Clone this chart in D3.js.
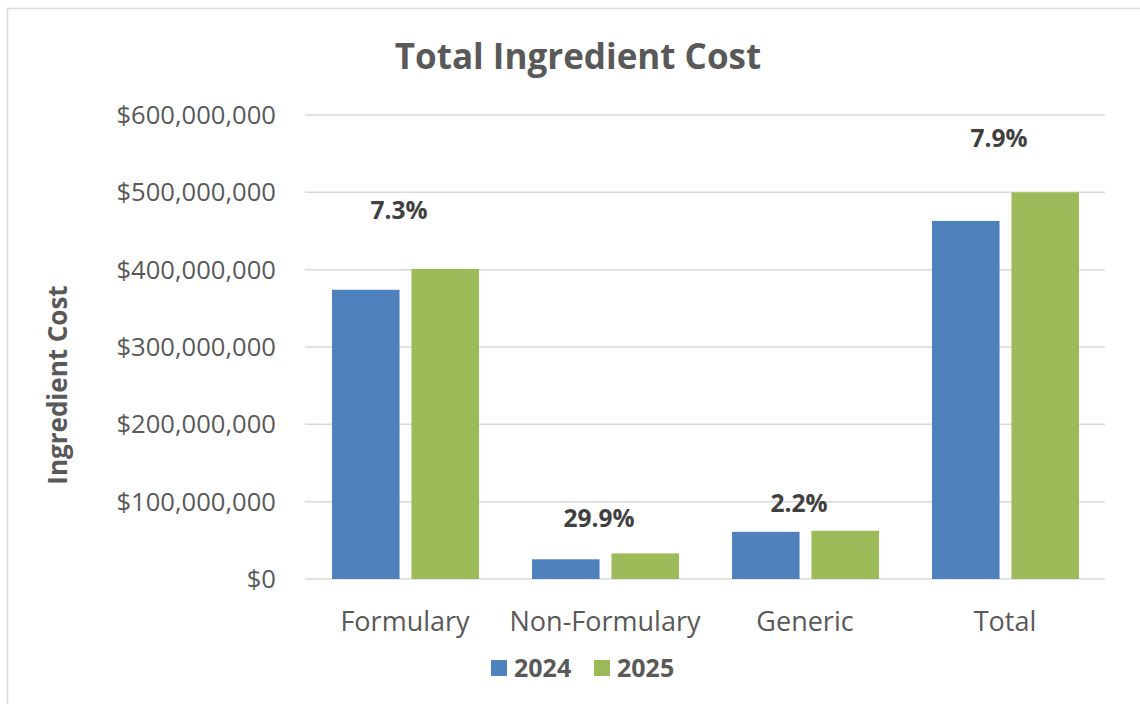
<!DOCTYPE html>
<html>
<head>
<meta charset="utf-8">
<script src="https://cdn.jsdelivr.net/npm/d3@7"></script>
<style>
  body { margin: 0; background: #fff; }
  text { font-family: "Open Sans", "Noto Sans", sans-serif; }
</style>
</head>
<body>
<script>
// Data
var categories = ["Formulary", "Non-Formulary", "Generic", "Total"];
var years = ["2024", "2025"];
var values2024 = [374000000, 25500000, 61000000, 463000000];
var values2025 = [401000000, 33100000, 62300000, 500000000];
var changeLabels = ["7.3%", "29.9%", "2.2%", "7.9%"];
// where each change label sits, in axis units
var labelAt = [477000000, 78000000, 98000000, 570000000];
var yTicks = [0, 100000000, 200000000, 300000000, 400000000, 500000000, 600000000];

var colors = ["#4F81BD", "#9BBB59"];

var w = 1140, h = 704;
var plotLeft = 305, plotRight = 1105, plotTop = 115, plotBottom = 579;

var svg = d3.select("body").append("svg")
    .attr("width", w)
    .attr("height", h);

// chart border
svg.append("rect")
    .attr("x", 7.5).attr("y", 8.5)
    .attr("width", 1140).attr("height", 710)
    .attr("fill", "none")
    .attr("stroke", "#d9d9d9")
    .attr("stroke-width", 1.5);

var x0 = d3.scaleBand()
    .domain(categories)
    .range([plotLeft, plotRight]);

var x1 = d3.scaleBand()
    .domain(years)
    .range([27, 174])
    .paddingInner(0.15);

var y = d3.scaleLinear()
    .domain([0, 600000000])
    .range([plotBottom, plotTop]);

// gridlines
svg.selectAll("line.grid")
    .data(yTicks)
    .enter()
    .append("line")
    .attr("class", "grid")
    .attr("x1", plotLeft)
    .attr("x2", plotRight)
    .attr("y1", d => y(d))
    .attr("y2", d => y(d))
    .attr("stroke", "#d9d9d9")
    .attr("stroke-width", 1.5);

// y axis labels
var fmt = d3.format("$,.0f");
svg.selectAll("text.ytick")
    .data(yTicks)
    .enter()
    .append("text")
    .attr("class", "ytick")
    .attr("x", 276)
    .attr("y", d => y(d))
    .attr("dy", "0.35em")
    .attr("text-anchor", "end")
    .attr("font-size", "25.6px")
    .attr("fill", "#595959")
    .text(d => fmt(d));

// bars
var rows = categories.map((c, i) => ({cat: c, vals: [values2024[i], values2025[i]]}));

var groups = svg.selectAll("g.cat")
    .data(rows)
    .enter()
    .append("g")
    .attr("class", "cat")
    .attr("transform", d => "translate(" + x0(d.cat) + ",0)");

groups.selectAll("rect")
    .data(d => d.vals.map((v, j) => ({year: years[j], v: v, j: j})))
    .enter()
    .append("rect")
    .attr("x", d => x1(d.year))
    .attr("width", x1.bandwidth())
    .attr("y", d => y(d.v))
    .attr("height", d => y(0) - y(d.v))
    .attr("fill", d => colors[d.j]);

// change labels
svg.selectAll("text.change")
    .data(categories)
    .enter()
    .append("text")
    .attr("class", "change")
    .attr("x", d => x0(d) + x0.bandwidth() / 2 - 6)
    .attr("y", (d, i) => y(labelAt[i]))
    .attr("dy", "0.35em")
    .attr("text-anchor", "middle")
    .attr("font-size", "24.5px")
    .attr("font-weight", "bold")
    .attr("fill", "#404040")
    .text((d, i) => changeLabels[i]);

// category labels
svg.selectAll("text.catlabel")
    .data(categories)
    .enter()
    .append("text")
    .attr("class", "catlabel")
    .attr("x", d => x0(d) + x0.bandwidth() / 2)
    .attr("y", 622)
    .attr("dy", "0.35em")
    .attr("text-anchor", "middle")
    .attr("font-size", "27px")
    .attr("fill", "#595959")
    .text(d => d);

// title
svg.append("text")
    .attr("x", 578)
    .attr("y", 57)
    .attr("dy", "0.35em")
    .attr("text-anchor", "middle")
    .attr("font-size", "35px")
    .attr("font-weight", "bold")
    .attr("fill", "#595959")
    .text("Total Ingredient Cost");

// y axis title
svg.append("text")
    .attr("transform", "translate(58,385) rotate(-90)")
    .attr("dy", "0.35em")
    .attr("text-anchor", "middle")
    .attr("font-size", "26px")
    .attr("font-weight", "bold")
    .attr("fill", "#595959")
    .text("Ingredient Cost");

// legend
var legendX = [491, 594];
var legend = svg.selectAll("g.legend")
    .data(years)
    .enter()
    .append("g")
    .attr("class", "legend")
    .attr("transform", (d, i) => "translate(" + legendX[i] + ",668)");

legend.append("rect")
    .attr("x", 0)
    .attr("y", -8)
    .attr("width", 16)
    .attr("height", 16)
    .attr("fill", (d, i) => colors[i]);

legend.append("text")
    .attr("x", 23)
    .attr("dy", "0.35em")
    .attr("font-size", "25px")
    .attr("font-weight", "bold")
    .attr("fill", "#595959")
    .text(d => d);
</script>
</body>
</html>
